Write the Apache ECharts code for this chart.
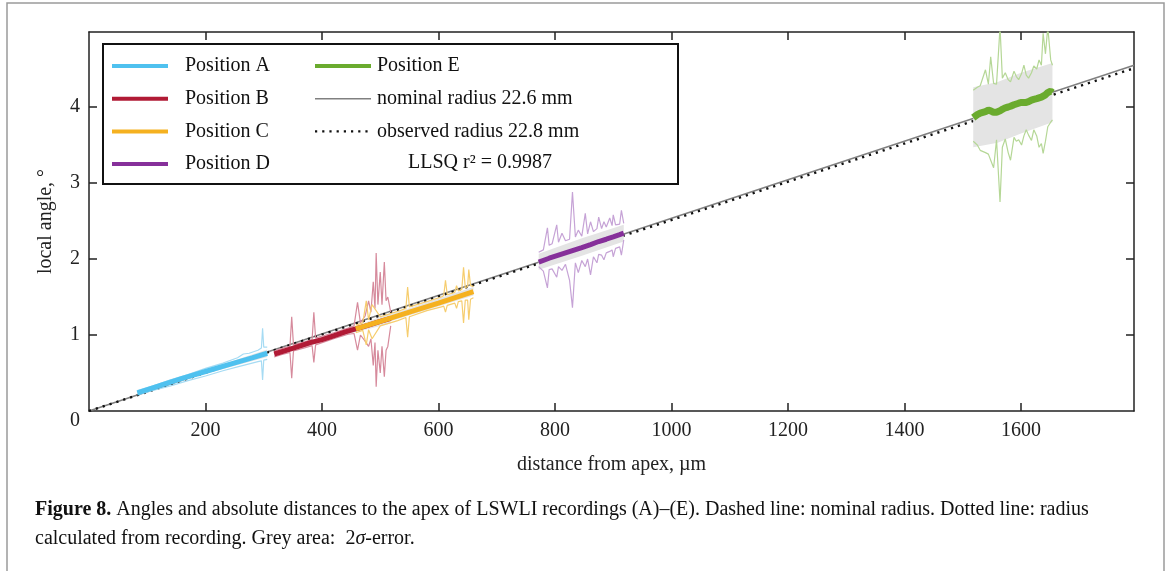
<!DOCTYPE html>
<html>
<head>
<meta charset="utf-8">
<script src="https://cdn.jsdelivr.net/npm/echarts@6/dist/echarts.min.js"></script>
<style>
html,body{margin:0;padding:0;background:#fff;}
#chart{width:1176px;height:571px;}
</style>
</head>
<body>
<div id="chart"></div>
<script>
// ---------- tick labels ----------
const xTicks = [200, 400, 600, 800, 1000, 1200, 1400, 1600];
const yTicks = [0, 1, 2, 3, 4];

// ---------- reference lines (endpoints) ----------
const nominalX = [0, 1794];
const nominalY = [0, 4.55];
const observedX = [0, 1794];
const observedY = [0, 4.51];

// ---------- Position A ----------
const xA = [83, 120, 160, 200, 240, 280, 306];
const cA = [0.24, 0.33, 0.43, 0.52, 0.61, 0.70, 0.76];
const xEnvA = [83, 110, 140, 170, 200, 230, 255, 265, 275, 290, 296, 298, 300, 306];
const upA = [0.27, 0.33, 0.41, 0.48, 0.56, 0.63, 0.70, 0.75, 0.76, 0.80, 0.83, 1.09, 0.84, 0.84];
const loA = [0.21, 0.27, 0.33, 0.40, 0.46, 0.53, 0.58, 0.60, 0.62, 0.65, 0.66, 0.41, 0.67, 0.68];
const xBandA = [83, 200, 306];
const bandLoA = [0.22, 0.49, 0.71];
const bandHiA = [0.26, 0.54, 0.81];

// ---------- Position B ----------
const xB = [318, 340, 360, 380, 400, 420, 440, 458, 480, 500, 518];
const cB = [0.75, 0.80, 0.85, 0.90, 0.94, 0.99, 1.04, 1.08, 1.13, 1.18, 1.22];
const xEnvB = [318, 330, 345, 348, 351, 370, 383, 386, 389, 420, 445, 455, 461, 466, 474, 480, 484, 488, 491, 493, 496, 500, 503, 507, 510, 513, 518];
const upB = [0.79, 0.82, 0.85, 1.24, 0.87, 0.91, 0.94, 1.30, 0.96, 1.03, 1.09, 1.12, 1.43, 1.16, 1.25, 1.45, 1.30, 1.70, 1.35, 2.08, 1.40, 1.83, 1.40, 1.96, 1.45, 1.50, 1.30];
const loB = [0.71, 0.74, 0.77, 0.43, 0.79, 0.83, 0.86, 0.64, 0.87, 0.95, 1.01, 1.02, 0.80, 1.00, 0.92, 0.85, 0.95, 0.60, 0.90, 0.32, 0.80, 0.50, 0.85, 0.45, 0.80, 0.85, 1.12];
const xBandB = [318, 458, 518];
const bandLoB = [0.72, 1.04, 1.15];
const bandHiB = [0.78, 1.12, 1.29];

// ---------- Position C ----------
const xC = [458, 500, 550, 600, 660];
const cC = [1.08, 1.18, 1.30, 1.42, 1.57];
const xEnvC = [458, 470, 476, 480, 486, 500, 530, 544, 547, 550, 580, 605, 609, 612, 615, 628, 631, 634, 640, 643, 646, 650, 652, 655, 660];
const upC = [1.13, 1.16, 1.45, 1.20, 1.40, 1.24, 1.31, 1.35, 1.63, 1.37, 1.44, 1.50, 1.52, 1.72, 1.53, 1.56, 1.65, 1.58, 1.60, 1.89, 1.62, 1.64, 1.86, 1.65, 1.64];
const loC = [1.03, 1.06, 0.87, 1.07, 0.95, 1.12, 1.19, 1.23, 0.97, 1.24, 1.32, 1.37, 1.38, 1.30, 1.39, 1.42, 1.35, 1.44, 1.45, 1.16, 1.46, 1.46, 1.20, 1.47, 1.49];
const xBandC = [458, 660];
const bandLoC = [1.04, 1.52];
const bandHiC = [1.12, 1.63];

// ---------- Position D ----------
const xD = [772, 790, 806, 818, 830, 846, 861, 875, 888, 900, 911, 918];
const cD = [1.96, 2.01, 2.05, 2.08, 2.11, 2.15, 2.19, 2.23, 2.26, 2.29, 2.32, 2.34];
const xEnvD = [772, 780, 787, 790, 795, 803, 806, 812, 818, 825, 830, 835, 840, 846, 852, 856, 861, 866, 872, 875, 880, 884, 888, 894, 898, 900, 904, 907, 911, 914, 918];
const upD = [2.09, 2.12, 2.41, 2.18, 2.20, 2.45, 2.22, 2.34, 2.24, 2.26, 2.88, 2.29, 2.38, 2.30, 2.60, 2.33, 2.49, 2.36, 2.40, 2.55, 2.40, 2.49, 2.42, 2.54, 2.44, 2.58, 2.45, 2.47, 2.46, 2.64, 2.47];
const loD = [1.90, 1.84, 1.62, 1.86, 1.87, 1.76, 1.90, 1.85, 1.93, 1.72, 1.36, 1.95, 1.82, 1.98, 1.90, 2.00, 1.79, 2.03, 1.95, 2.06, 2.05, 1.99, 2.08, 2.10, 2.12, 2.03, 2.14, 2.15, 2.16, 2.05, 2.25];
const xBandD = [772, 845, 918];
const bandLoD = [1.86, 2.04, 2.23];
const bandHiD = [2.07, 2.27, 2.45];

// ---------- Position E ----------
const xE = [1518, 1525, 1530, 1539, 1544, 1548, 1553, 1558, 1564, 1568, 1573, 1578, 1582, 1588, 1592, 1596, 1601, 1605, 1609, 1613, 1618, 1622, 1627, 1631, 1635, 1638, 1642, 1646, 1651, 1654];
const cE = [3.86, 3.90, 3.92, 3.94, 3.96, 3.95, 3.93, 3.93, 3.95, 3.97, 3.99, 4.00, 4.01, 4.03, 4.04, 4.05, 4.06, 4.06, 4.06, 4.07, 4.09, 4.10, 4.11, 4.12, 4.13, 4.14, 4.16, 4.19, 4.21, 4.19];
const upE = [4.22, 4.26, 4.28, 4.49, 4.30, 4.66, 4.31, 4.30, 5.05, 4.38, 4.45, 4.36, 4.33, 4.47, 4.40, 4.36, 4.44, 4.55, 4.42, 4.38, 4.45, 4.54, 4.50, 4.62, 4.55, 4.97, 4.70, 5.05, 4.62, 4.55];
const loE = [3.55, 3.50, 3.43, 3.40, 3.38, 3.30, 3.20, 3.57, 2.75, 3.47, 3.58, 3.40, 3.30, 3.60, 3.55, 3.57, 3.50, 3.62, 3.70, 3.63, 3.56, 3.70, 3.62, 3.47, 3.52, 3.39, 3.55, 3.74, 3.80, 3.83];
const xBandE = [1518, 1560, 1600, 1654];
const bandLoE = [3.47, 3.53, 3.65, 3.80];
const bandHiE = [4.26, 4.33, 4.45, 4.58];

// ---------- styling ----------
const SERIF = "'Liberation Serif', 'DejaVu Serif', serif";
const BAND = '#e4e4e4';

function pairs(xs, ys) { return xs.map((x, i) => [x, ys[i]]); }

function bandSeries(name, xs, lo, hi) {
  return {
    type: 'custom', name: name, silent: true, z: 2, clip: true,
    data: xs.map((x, i) => [x, lo[i], hi[i]]),
    encode: { x: 0, y: [1, 2] },
    renderItem: function (params, api) {
      if (params.dataIndex !== 0) return;
      const pts = [];
      for (let i = 0; i < xs.length; i++) pts.push(api.coord([xs[i], hi[i]]));
      for (let i = xs.length - 1; i >= 0; i--) pts.push(api.coord([xs[i], lo[i]]));
      return { type: 'polygon', shape: { points: pts }, style: { fill: BAND } };
    }
  };
}
function envSeries(name, xs, ys, color) {
  return {
    type: 'line', name: name, silent: true, symbol: 'none', z: 3, clip: true,
    data: pairs(xs, ys),
    lineStyle: { color: color, width: 1.2 }
  };
}
function mainSeries(name, xs, ys, color, w) {
  return {
    type: 'line', name: name, silent: true, symbol: 'none', z: 4, clip: true,
    data: pairs(xs, ys), color: color,
    lineStyle: { color: color, width: w }
  };
}
function group(label, color, envColor, xs, cs, xe, up, lo, xb, bl, bh, w) {
  return [
    bandSeries(label + ' band', xb, bl, bh),
    envSeries(label + ' upper', xe, up, envColor),
    envSeries(label + ' lower', xe, lo, envColor),
    mainSeries(label, xs, cs, color, w)
  ];
}

const series = [
  { type: 'line', name: 'nominal radius 22.6 mm', symbol: 'none', silent: true, z: 1,
    data: pairs(nominalX, nominalY), color: '#808080',
    lineStyle: { color: '#808080', width: 1.6 } },
  { type: 'line', name: 'observed radius 22.8 mm', symbol: 'none', silent: true, z: 1,
    data: pairs(observedX, observedY), color: '#111',
    lineStyle: { color: '#111', width: 2.4, type: [2.2, 5] } }
].concat(
  group('Position A', '#4fc1ef', '#a6dbf3', xA, cA, xEnvA, upA, loA, xBandA, bandLoA, bandHiA, 5),
  group('Position B', '#b11a35', '#d68a9c', xB, cB, xEnvB, upB, loB, xBandB, bandLoB, bandHiB, 5),
  group('Position C', '#f5b120', '#f6cd6e', xC, cC, xEnvC, upC, loC, xBandC, bandLoC, bandHiC, 5),
  group('Position D', '#86309a', '#c6a3d6', xD, cD, xEnvD, upD, loD, xBandD, bandLoD, bandHiD, 5),
  group('Position E', '#6aab2e', '#b5d796', xE, cE, xE, upE, loE, xBandE, bandLoE, bandHiE, 7)
);

const axisLineStyle = { color: '#222', width: 1.5 };
const labelStyle = { fontFamily: SERIF, fontSize: 20, color: '#222' };

const legendCommon = {
  orient: 'vertical', padding: 0, itemWidth: 56, itemHeight: 14, itemGap: 10.7,
  itemStyle: { opacity: 0 }, selectedMode: false,
  textStyle: { fontFamily: SERIF, fontSize: 20, color: '#111', lineHeight: 22 }
};
function legItem(name, w) { return { name: name, lineStyle: { width: w } }; }

const option = {
  animation: false,
  backgroundColor: '#fff',
  grid: { left: 89, right: 42, top: 32, bottom: 160 },
  xAxis: [
    { type: 'value', position: 'bottom', min: 0, max: 1794, interval: 200,
      name: 'distance from apex, µm', nameLocation: 'middle', nameGap: 44,
      nameTextStyle: labelStyle,
      axisLine: { onZero: false, lineStyle: axisLineStyle },
      axisTick: { inside: true, length: 8, lineStyle: axisLineStyle, customValues: xTicks },
      axisLabel: Object.assign({ margin: 10, customValues: xTicks,
        formatter: function (v) { return String(v); } }, labelStyle),
      splitLine: { show: false } },
    { type: 'value', position: 'top', min: 0, max: 1794, interval: 200,
      axisLine: { onZero: false, lineStyle: axisLineStyle },
      axisTick: { inside: true, length: 8, lineStyle: axisLineStyle, customValues: xTicks },
      axisLabel: { show: false }, splitLine: { show: false } }
  ],
  yAxis: [
    { type: 'value', position: 'left', min: 0, max: 4.987, interval: 1,
      name: 'local angle, °', nameLocation: 'middle', nameGap: 33, nameRotate: 90,
      nameTextStyle: labelStyle,
      axisLine: { onZero: false, lineStyle: axisLineStyle },
      axisTick: { inside: true, length: 8, lineStyle: axisLineStyle, customValues: [1, 2, 3, 4] },
      axisLabel: Object.assign({ margin: 9, customValues: yTicks,
        formatter: function (v) { return v === 0 ? '{z|0}' : String(v); },
        rich: { z: { fontFamily: SERIF, fontSize: 20, color: '#222', padding: [20, 0, 0, 0] } } }, labelStyle),
      splitLine: { show: false } },
    { type: 'value', position: 'right', min: 0, max: 4.987, interval: 1,
      axisLine: { onZero: false, lineStyle: axisLineStyle },
      axisTick: { inside: true, length: 8, lineStyle: axisLineStyle, customValues: [1, 2, 3, 4] },
      axisLabel: { show: false }, splitLine: { show: false } }
  ],
  legend: [
    Object.assign({}, legendCommon, { left: 110, top: 55,
      data: [legItem('Position A', 4), legItem('Position B', 4), legItem('Position C', 4), legItem('Position D', 4)],
      textStyle: Object.assign({}, legendCommon.textStyle, { padding: [0, 0, 0, 12] }) }),
    Object.assign({}, legendCommon, { left: 313, top: 55,
      data: [legItem('Position E', 4), legItem('nominal radius 22.6 mm', 1.6), legItem('observed radius 22.8 mm', 2.4)],
      textStyle: Object.assign({}, legendCommon.textStyle, { padding: [0, 0, 0, 1] }) })
  ],
  graphic: [
    { type: 'rect', silent: true, z: -10, shape: { x: 7, y: 3, width: 1157, height: 600 },
      style: { fill: 'none', stroke: '#9a9a9a', lineWidth: 1.5 } },
    { type: 'rect', silent: true, z: 3, shape: { x: 103, y: 44, width: 575, height: 140 },
      style: { fill: '#fff', stroke: '#111', lineWidth: 2 } },
    { type: 'text', silent: true, z: 5, x: 480, y: 163,
      style: { text: 'LLSQ r² = 0.9987', fontFamily: SERIF, fontSize: 20, fill: '#111',
        align: 'center', verticalAlign: 'middle' } },
    { type: 'text', silent: true, z: 5, x: 35, y: 510,
      style: { text: '{b|Figure 8.} Angles and absolute distances to the apex of LSWLI recordings (A)–(E). Dashed line: nominal radius. Dotted line: radius',
        fontFamily: SERIF, fontSize: 20, fill: '#111', verticalAlign: 'middle',
        rich: { b: { fontWeight: 'bold', fontFamily: SERIF, fontSize: 20, fill: '#111' } } } },
    { type: 'text', silent: true, z: 5, x: 35, y: 539,
      style: { text: 'calculated from recording. Grey area:  2{i|σ}-error.',
        fontFamily: SERIF, fontSize: 20, fill: '#111', verticalAlign: 'middle',
        rich: { i: { fontStyle: 'italic', fontFamily: SERIF, fontSize: 20, fill: '#111' } } } }
  ],
  series: series
};

const chart = echarts.init(document.getElementById('chart'), null, { renderer: 'canvas' });
chart.setOption(option);
</script>
</body>
</html>
